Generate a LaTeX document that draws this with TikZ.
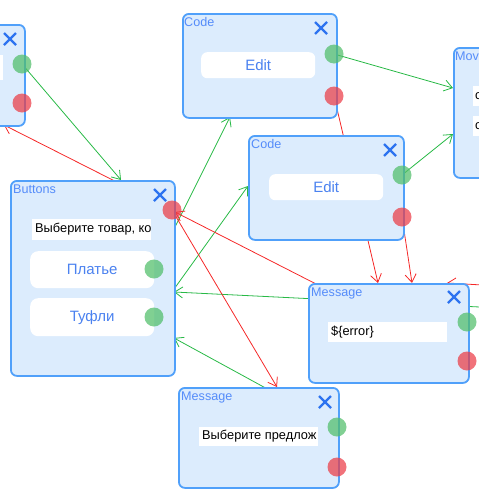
\documentclass[tikz,border=0pt]{standalone}
\usepackage{fontspec}
\setmainfont{Liberation Sans}
\usetikzlibrary{arrows.meta}
\pgfdeclarelayer{bg}
\pgfsetlayers{bg,main}
\definecolor{boxfill}{RGB}{220,236,253}
\definecolor{boxline}{RGB}{80,160,250}
\definecolor{titlecol}{RGB}{85,140,250}
\definecolor{btncol}{RGB}{75,130,240}
\definecolor{xcol}{RGB}{45,115,240}
\definecolor{dotgreen}{RGB}{80,190,105}
\definecolor{dotred}{RGB}{235,60,70}
\definecolor{lgreen}{RGB}{40,185,70}
\definecolor{lred}{RGB}{245,40,40}
\tikzset{
  panel/.style={draw=boxline, line width=1.8pt, fill=boxfill, rounded corners=6pt, anchor=north west, inner sep=0pt},
  ttl/.style={anchor=north west, text=titlecol, font=\fontsize{12.6}{14}\selectfont, inner sep=0pt},
  editbox/.style={fill=white, rounded corners=6pt, anchor=north west, inner sep=0pt, text=btncol, font=\fontsize{15}{17}\selectfont},
  btnbox/.style={fill=white, rounded corners=8pt, anchor=north west, inner sep=0pt, text=btncol, font=\fontsize{15}{17}\selectfont},
  fieldbox/.style={fill=white, anchor=north west, inner sep=0pt},
  fieldtxt/.style={anchor=west, inner sep=0pt, font=\fontsize{12.8}{14}\selectfont},
  gdot/.style={circle, fill=dotgreen, fill opacity=0.72, minimum size=19pt, inner sep=0pt},
  rdot/.style={circle, fill=dotred, fill opacity=0.72, minimum size=19pt, inner sep=0pt},
  conn/.style={line width=0.8pt, -{Straight Barb[length=8pt,width=11pt]}},
  gconn/.style={conn, draw=lgreen},
  rconn/.style={conn, draw=lred},
  xicon/.pic={\draw[xcol, line width=2.4pt] (-6,-6) -- (6,6) (-6,6) -- (6,-6);}
}
\begin{document}
\begin{tikzpicture}[x=1pt,y=-1pt]
\useasboundingbox (0,0) rectangle (479,493);
\clip (0,0) rectangle (479,493);

% ---------- left partial panel ----------
\node[panel, minimum width=164pt, minimum height=101pt] (lp) at (-140,24) {};
\node[fieldbox, minimum width=103pt, minimum height=25pt] (lpf) at (-100,55) {};
\pic at (10,39) {xicon};
\node[gdot] (lpg) at (22,64) {};
\node[rdot] (lpr) at (22,103) {};

% ---------- Code 1 ----------
\node[panel, minimum width=154pt, minimum height=104pt] (c1) at (182,13) {};
\node[ttl] (c1t) at (184,17.5) {Code};
\node[editbox, minimum width=114pt, minimum height=26pt] (c1e) at (201,52) {Edit};
\pic at (321,28) {xicon};
\node[gdot] (c1g) at (334,54) {};
\node[rdot] (c1r) at (334,96) {};

% ---------- Movie (cut at right edge) ----------
\node[panel, minimum width=170pt, minimum height=130pt] (mv) at (453,47) {};
\node[ttl] (mvt) at (455,52) {Mov};
\node[fieldbox, minimum width=120pt, minimum height=20pt] (mvf1) at (473,86) {};
\node[fieldbox, minimum width=120pt, minimum height=20pt] (mvf2) at (473,116) {};
\node[fieldtxt] (mvt1) at (475,96) {c};
\node[fieldtxt] (mvt2) at (475,126) {c};

% ---------- Code 2 ----------
\node[panel, minimum width=155pt, minimum height=104pt] (c2) at (248,135) {};
\node[ttl] (c2t) at (251,139.5) {Code};
\node[editbox, minimum width=114pt, minimum height=26pt] (c2e) at (269,174) {Edit};
\pic at (390,150) {xicon};
\node[gdot] (c2g) at (402,175) {};
\node[rdot] (c2r) at (402,217) {};

% ---------- Buttons ----------
\node[panel, minimum width=164pt, minimum height=195pt] (bt) at (10,180) {};
\node[ttl] (btt) at (13,184.5) {Buttons};
\pic at (160,195) {xicon};
\node[fieldbox, minimum width=119pt, minimum height=21pt] (btf) at (32,219) {};
\node[fieldtxt] (btft) at (35,229.5) {Выберите товар, ко};
\node[btnbox, minimum width=124pt, minimum height=37pt] (b1) at (30,251) {Платье};
\node[btnbox, minimum width=124pt, minimum height=38pt] (b2) at (30,298) {Туфли};
\node[rdot] (btr) at (172,210) {};
\node[gdot] (b1g) at (154,269) {};
\node[gdot] (b2g) at (154,317) {};

% ---------- Message 1 ----------
\node[panel, minimum width=160pt, minimum height=99pt] (m1) at (308,283) {};
\node[ttl] (m1t) at (311,287.5) {Message};
\pic at (454,297) {xicon};
\node[fieldbox, minimum width=119pt, minimum height=20pt] (m1f) at (328,322) {};
\node[fieldtxt] (m1ft) at (331,332) {\$\{error\}};
\node[gdot] (m1g) at (467,322) {};
\node[rdot] (m1r) at (467,361) {};

% ---------- Message 2 ----------
\node[panel, minimum width=160pt, minimum height=100pt] (m2) at (178,387) {};
\node[ttl] (m2t) at (181,391.5) {Message};
\pic at (325,402) {xicon};
\node[fieldbox, minimum width=119pt, minimum height=19pt] (m2f) at (199,427) {};
\node[fieldtxt] (m2ft) at (202,436.5) {Выберите предлож};
\node[gdot] (m2g) at (337,427) {};
\node[rdot] (m2r) at (337,467) {};

% ---------- connector end points ----------
\coordinate (tBtTop) at (121,180);
\coordinate (tLpBot) at (4,125);
\coordinate (tC1Bot) at (230,117);
\coordinate (tC2Left) at (248,186);
\coordinate (tBtRed) at (175,212);
\coordinate (tBtR1) at (174,292);
\coordinate (tBtR2) at (174,338);
\coordinate (tM2Top) at (277,387);
\coordinate (tM1Top1) at (378,283);
\coordinate (tM1Top2) at (412,283);
\coordinate (tM1Top3) at (447,283);
\coordinate (tMv1) at (453,88);
\coordinate (tMv2) at (453,134);
\coordinate (offG) at (500,308);
\coordinate (offR) at (500,286);

\begin{pgfonlayer}{bg}
\draw[gconn] (lpg.center) -- (tBtTop);
\draw[rconn] (btr.center) -- (tLpBot);
\draw[gconn] (b1g.center) -- (tC1Bot);
\draw[gconn] (b2g.center) -- (tC2Left);
\draw[rconn] (m1r.center) -- (tBtRed);
\draw[gconn] (offG) -- (tBtR1);
\draw[rconn] (btr.center) -- (tM2Top);
\draw[gconn] (m2g.center) -- (tBtR2);
\draw[rconn] (c1r.center) -- (tM1Top1);
\draw[rconn] (c2r.center) -- (tM1Top2);
\draw[rconn] (offR) -- (tM1Top3);
\draw[gconn] (c1g.center) -- (tMv1);
\draw[gconn] (c2g.center) -- (tMv2);
\end{pgfonlayer}
\end{tikzpicture}
\end{document}
